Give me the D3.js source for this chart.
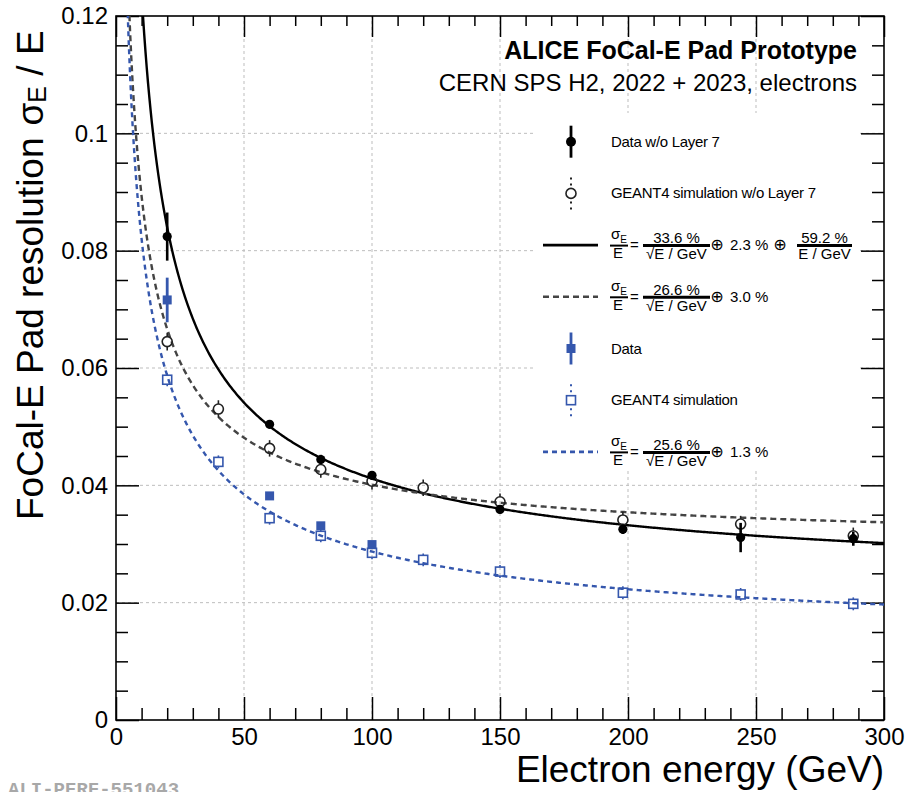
<!DOCTYPE html>
<html>
<head>
<meta charset="utf-8">
<script src="https://cdn.jsdelivr.net/npm/d3@7/dist/d3.min.js"></script>
<style>
  body { margin: 0; background: #fff; }
  svg { font-family: "Liberation Sans", Arial, Helvetica, sans-serif; }
</style>
</head>
<body>
<div id="chart"></div>
<script>
// beam energies (GeV)
var energyData = [20, 60, 80, 100, 150, 198, 244, 288]
var energySim = [20, 40, 60, 80, 100, 120, 150, 198, 244, 288]
var energyDataAll = [20, 60, 80, 100]

// resolution values
var resData = [0.0824, 0.0504, 0.0444, 0.0417, 0.0359, 0.0325, 0.0311, 0.0309]
var errData = [0.0041, 0.0007, 0.0008, 0.0007, 0.0007, 0.0008, 0.0025, 0.0012]
var resSim = [0.0645, 0.0530, 0.0463, 0.0427, 0.0407, 0.0396, 0.0372, 0.0341, 0.0334, 0.0314]
var errSim = [0.0015, 0.0015, 0.0014, 0.0014, 0.0014, 0.0014, 0.0014, 0.0014, 0.0014, 0.0014]
var resDataAll = [0.0716, 0.0382, 0.0331, 0.0299]
var errDataAll = [0.0038, 0.0004, 0.0004, 0.0004]
var resSimAll = [0.0580, 0.0440, 0.0344, 0.0314, 0.0285, 0.0273, 0.0253, 0.0217, 0.0214, 0.0198]
var errSimAll = [0.0011, 0.0011, 0.0011, 0.0011, 0.0011, 0.0011, 0.0011, 0.0011, 0.0011, 0.0011]

// fit parameters: stochastic, constant, noise term (as in the legend)
var fitStoch = [0.336, 0.266, 0.256]
var fitConst = [0.023, 0.030, 0.013]
var fitNoise = [0.592, 0, 0]

var xTicks = [0, 50, 100, 150, 200, 250, 300]
var yTicks = [0, 0.02, 0.04, 0.06, 0.08, 0.1, 0.12]

var legendLabels = ['Data w/o Layer 7', 'GEANT4 simulation w/o Layer 7', '', '', 'Data', 'GEANT4 simulation', '']
var formulaNum = ['33.6 %', '26.6 %', '25.6 %']
var formulaConst = ['2.3 %', '3.0 %', '1.3 %']
var formulaNoise = ['59.2 %', '', '']

var blue = '#3557ad'
var width = 909, height = 792

var x = d3.scaleLinear().domain([0, 300]).range([116, 884])
var y = d3.scaleLinear().domain([0, 0.12]).range([720, 16])

var svg = d3.select('#chart').append('svg').attr('width', width).attr('height', height)

svg.append('clipPath').attr('id', 'plotclip').append('rect')
  .attr('x', x(0)).attr('y', y(0.12)).attr('width', x(300) - x(0)).attr('height', y(0) - y(0.12))

// grid
var grid = svg.append('g').attr('stroke', '#bdbdbd').attr('stroke-width', 1).attr('stroke-dasharray', '3,3')
grid.selectAll('.gx').data(xTicks.slice(1, -1)).join('line')
  .attr('x1', d => x(d)).attr('x2', d => x(d)).attr('y1', y(0)).attr('y2', y(0.12))
grid.selectAll('.gy').data(yTicks.slice(1, -1)).join('line')
  .attr('x1', x(0)).attr('x2', x(300)).attr('y1', d => y(d)).attr('y2', d => y(d))

// axes (ROOT style: ticks inside, on all four sides)
var xMinor = d3.range(0, 301, 10).filter(d => d % 50 != 0)
var yMinor = d3.range(0, 0.1201, 0.005).filter(d => Math.abs(d / 0.02 - Math.round(d / 0.02)) > 0.01)

function styleAxis(g) {
  g.select('.domain').remove()
  g.selectAll('.tick line').attr('stroke', '#000').attr('stroke-width', 1.5)
  g.selectAll('text').attr('fill', '#000').style('font-size', '24px')
    .style('font-family', '"Liberation Sans", Arial, sans-serif')
}

svg.append('g').attr('transform', 'translate(0,' + y(0) + ')')
  .call(d3.axisBottom(x).tickValues(xTicks).tickSize(-23).tickPadding(6).tickFormat(d3.format('d')))
  .call(styleAxis)
  .selectAll('text').attr('dy', '0.79em')
svg.append('g').attr('transform', 'translate(0,' + y(0) + ')')
  .call(d3.axisBottom(x).tickValues(xMinor).tickSize(-12).tickFormat(''))
  .call(styleAxis)
svg.append('g').attr('transform', 'translate(0,' + y(0.12) + ')')
  .call(d3.axisTop(x).tickValues(xTicks).tickSize(-21).tickFormat(''))
  .call(styleAxis)
svg.append('g').attr('transform', 'translate(0,' + y(0.12) + ')')
  .call(d3.axisTop(x).tickValues(xMinor).tickSize(-10).tickFormat(''))
  .call(styleAxis)

svg.append('g').attr('transform', 'translate(' + x(0) + ',0)')
  .call(d3.axisLeft(y).tickValues(yTicks).tickSize(-23).tickPadding(8).tickFormat(d => d == 0 ? '0' : d3.format('.2~f')(d)))
  .call(styleAxis)
svg.append('g').attr('transform', 'translate(' + x(0) + ',0)')
  .call(d3.axisLeft(y).tickValues(yMinor).tickSize(-12).tickFormat(''))
  .call(styleAxis)
svg.append('g').attr('transform', 'translate(' + x(300) + ',0)')
  .call(d3.axisRight(y).tickValues(yTicks).tickSize(-23).tickFormat(''))
  .call(styleAxis)
svg.append('g').attr('transform', 'translate(' + x(300) + ',0)')
  .call(d3.axisRight(y).tickValues(yMinor).tickSize(-12).tickFormat(''))
  .call(styleAxis)

svg.append('rect').attr('x', x(0)).attr('y', y(0.12)).attr('width', x(300) - x(0)).attr('height', y(0) - y(0.12))
  .attr('fill', 'none').attr('stroke', '#000').attr('stroke-width', 1.6)

// legend background hides the grid
svg.append('rect').attr('x', 535).attr('y', 113).attr('width', 323).attr('height', 357).attr('fill', '#fff')

// fit curves
var curveE = d3.range(1, 300.01, 0.5)
function fitValue(i, e) {
  var s = fitStoch[i] / Math.sqrt(e), c = fitConst[i], n = fitNoise[i] / e
  return Math.sqrt(s * s + c * c + n * n)
}
var curveStyle = [
  {stroke: '#000', dash: null},
  {stroke: '#444', dash: '6,4'},
  {stroke: blue, dash: '5,4'}
]
var curves = svg.append('g').attr('clip-path', 'url(#plotclip)')
fitStoch.forEach(function(a, i) {
  curves.append('path')
    .datum(curveE)
    .attr('d', d3.line().x(d => x(d)).y(d => y(Math.min(fitValue(i, d), 0.2))))
    .attr('fill', 'none')
    .attr('stroke', curveStyle[i].stroke)
    .attr('stroke-width', 2.4)
    .attr('stroke-dasharray', curveStyle[i].dash)
})

// markers
var marks = svg.append('g')

function errorStems(g, xs, vals, errs, color, gap, w) {
  xs.forEach(function(e, i) {
    var cx = x(e), cy = y(vals[i])
    var top = y(vals[i] + errs[i]), bot = y(vals[i] - errs[i])
    if (cy - gap > top)
      g.append('line').attr('x1', cx).attr('x2', cx).attr('y1', top).attr('y2', cy - gap).attr('stroke', color).attr('stroke-width', w)
    if (cy + gap < bot)
      g.append('line').attr('x1', cx).attr('x2', cx).attr('y1', cy + gap).attr('y2', bot).attr('stroke', color).attr('stroke-width', w)
  })
}

// simulation w/o layer 7: open circles
errorStems(marks, energySim, resSim, errSim, '#222', 5, 1.6)
marks.selectAll('.simc').data(energySim).join('circle')
  .attr('cx', d => x(d)).attr('cy', (d, i) => y(resSim[i])).attr('r', 5)
  .attr('fill', 'none').attr('stroke', '#222').attr('stroke-width', 1.6)

// data w/o layer 7: filled circles
errorStems(marks, energyData, resData, errData, '#000', 0, 2.6)
marks.selectAll('.datc').data(energyData).join('circle')
  .attr('cx', d => x(d)).attr('cy', (d, i) => y(resData[i])).attr('r', 4.6)
  .attr('fill', '#000')

// data: filled blue squares
errorStems(marks, energyDataAll, resDataAll, errDataAll, blue, 0, 2.8)
marks.selectAll('.dats').data(energyDataAll).join('rect')
  .attr('x', d => x(d) - 4.5).attr('y', (d, i) => y(resDataAll[i]) - 4.5).attr('width', 9).attr('height', 9)
  .attr('fill', blue)

// simulation: open blue squares
errorStems(marks, energySim, resSimAll, errSimAll, blue, 4.5, 1.6)
marks.selectAll('.sims').data(energySim).join('rect')
  .attr('x', d => x(d) - 4.5).attr('y', (d, i) => y(resSimAll[i]) - 4.5).attr('width', 9).attr('height', 9)
  .attr('fill', 'none').attr('stroke', blue).attr('stroke-width', 1.6)

// legend
var legend = svg.append('g').style('font-size', '15px')
var lx = 571, tx = 611
legendLabels.forEach(function(label, i) {
  var yc = 141.7 + i * 51.7
  if (label) legend.append('text').attr('x', tx).attr('y', yc + 5).style('letter-spacing', '-0.3px').text(label)
})

function legendPoint(yc, color, filled, square) {
  legend.append('line').attr('x1', lx).attr('x2', lx).attr('y1', yc - 16).attr('y2', yc + 16)
    .attr('stroke', color).attr('stroke-width', filled ? 2.8 : 2)
    .attr('stroke-dasharray', filled ? null : '2,4')
  if (square)
    legend.append('rect').attr('x', lx - 4.5).attr('y', yc - 4.5).attr('width', 9).attr('height', 9)
      .attr('fill', filled ? color : '#fff').attr('stroke', color).attr('stroke-width', filled ? 0 : 1.6)
  else
    legend.append('circle').attr('cx', lx).attr('cy', yc).attr('r', 5)
      .attr('fill', filled ? color : '#fff').attr('stroke', color).attr('stroke-width', filled ? 0 : 1.6)
}
legendPoint(141.7, '#000', true, false)
legendPoint(141.7 + 51.7, '#222', false, false)
legendPoint(141.7 + 4 * 51.7, blue, true, true)
legendPoint(141.7 + 5 * 51.7, blue, false, true)

function fraction(cx, yc, w, num, den) {
  legend.append('text').attr('x', cx).attr('y', yc - 2).attr('text-anchor', 'middle').text(num)
  legend.append('line').attr('x1', cx - w / 2).attr('x2', cx + w / 2).attr('y1', yc + 0.5).attr('y2', yc + 0.5)
    .attr('stroke', '#000').attr('stroke-width', 3)
  legend.append('text').attr('x', cx).attr('y', yc + 14).attr('text-anchor', 'middle').text(den)
}

function oplus(cx, yc) {
  legend.append('text').attr('x', cx).attr('y', yc + 5).attr('text-anchor', 'middle')
    .style('font-family', '"DejaVu Sans", sans-serif').style('font-size', '16px').text('\u2295')
}

function formula(k, yc) {
  var st = curveStyle[k]
  legend.append('line').attr('x1', 543).attr('x2', 598).attr('y1', yc).attr('y2', yc)
    .attr('stroke', st.stroke).attr('stroke-width', 2.6).attr('stroke-dasharray', st.dash)
  var s = legend.append('text').attr('x', tx).attr('y', yc - 6)
  s.append('tspan').text('σ')
  s.append('tspan').attr('dy', 4).style('font-size', '10px').text('E')
  legend.append('line').attr('x1', tx - 1).attr('x2', tx + 17).attr('y1', yc + 0.5).attr('y2', yc + 0.5)
    .attr('stroke', '#000').attr('stroke-width', 2)
  legend.append('text').attr('x', tx + 2).attr('y', yc + 13).text('E')
  legend.append('text').attr('x', tx + 19).attr('y', yc + 5).text('=')
  fraction(tx + 65.5, yc, 67, formulaNum[k], '\u221AE / GeV')
  oplus(tx + 106, yc)
  legend.append('text').attr('x', tx + 119).attr('y', yc + 5).text(formulaConst[k])
  if (formulaNoise[k]) {
    oplus(tx + 169, yc)
    fraction(tx + 213.5, yc, 55, formulaNoise[k], 'E / GeV')
  }
}
formula(0, 141.7 + 2 * 51.7)
formula(1, 141.7 + 3 * 51.7)
formula(2, 141.7 + 6 * 51.7)

// titles
svg.append('text').attr('x', 857).attr('y', 59).attr('text-anchor', 'end')
  .style('font-size', '25px').style('font-weight', 'bold').text('ALICE FoCal-E Pad Prototype')
svg.append('text').attr('x', 857).attr('y', 91).attr('text-anchor', 'end')
  .style('font-size', '24px').text('CERN SPS H2, 2022 + 2023, electrons')

// axis titles
svg.append('text').attr('x', 884).attr('y', 782).attr('text-anchor', 'end')
  .style('font-size', '37px').text('Electron energy (GeV)')

var yl = svg.append('text').attr('transform', 'translate(43,520) rotate(-90)')
  .style('font-size', '37px')
yl.append('tspan').text('FoCal-E Pad resolution')
yl.append('tspan').attr('dx', 12).text('\u03C3')
yl.append('tspan').attr('dy', 3).style('font-size', '25px').text('E')
yl.append('tspan').attr('dy', -3).text(' / E')

svg.append('text').attr('x', 8).attr('y', 795)
  .style('font-family', '"Liberation Mono", "DejaVu Sans Mono", monospace').style('font-weight', 'bold')
  .style('font-size', '19px').attr('fill', '#a8a8a8').text('ALI-PERF-551043')
</script>
</body>
</html>
